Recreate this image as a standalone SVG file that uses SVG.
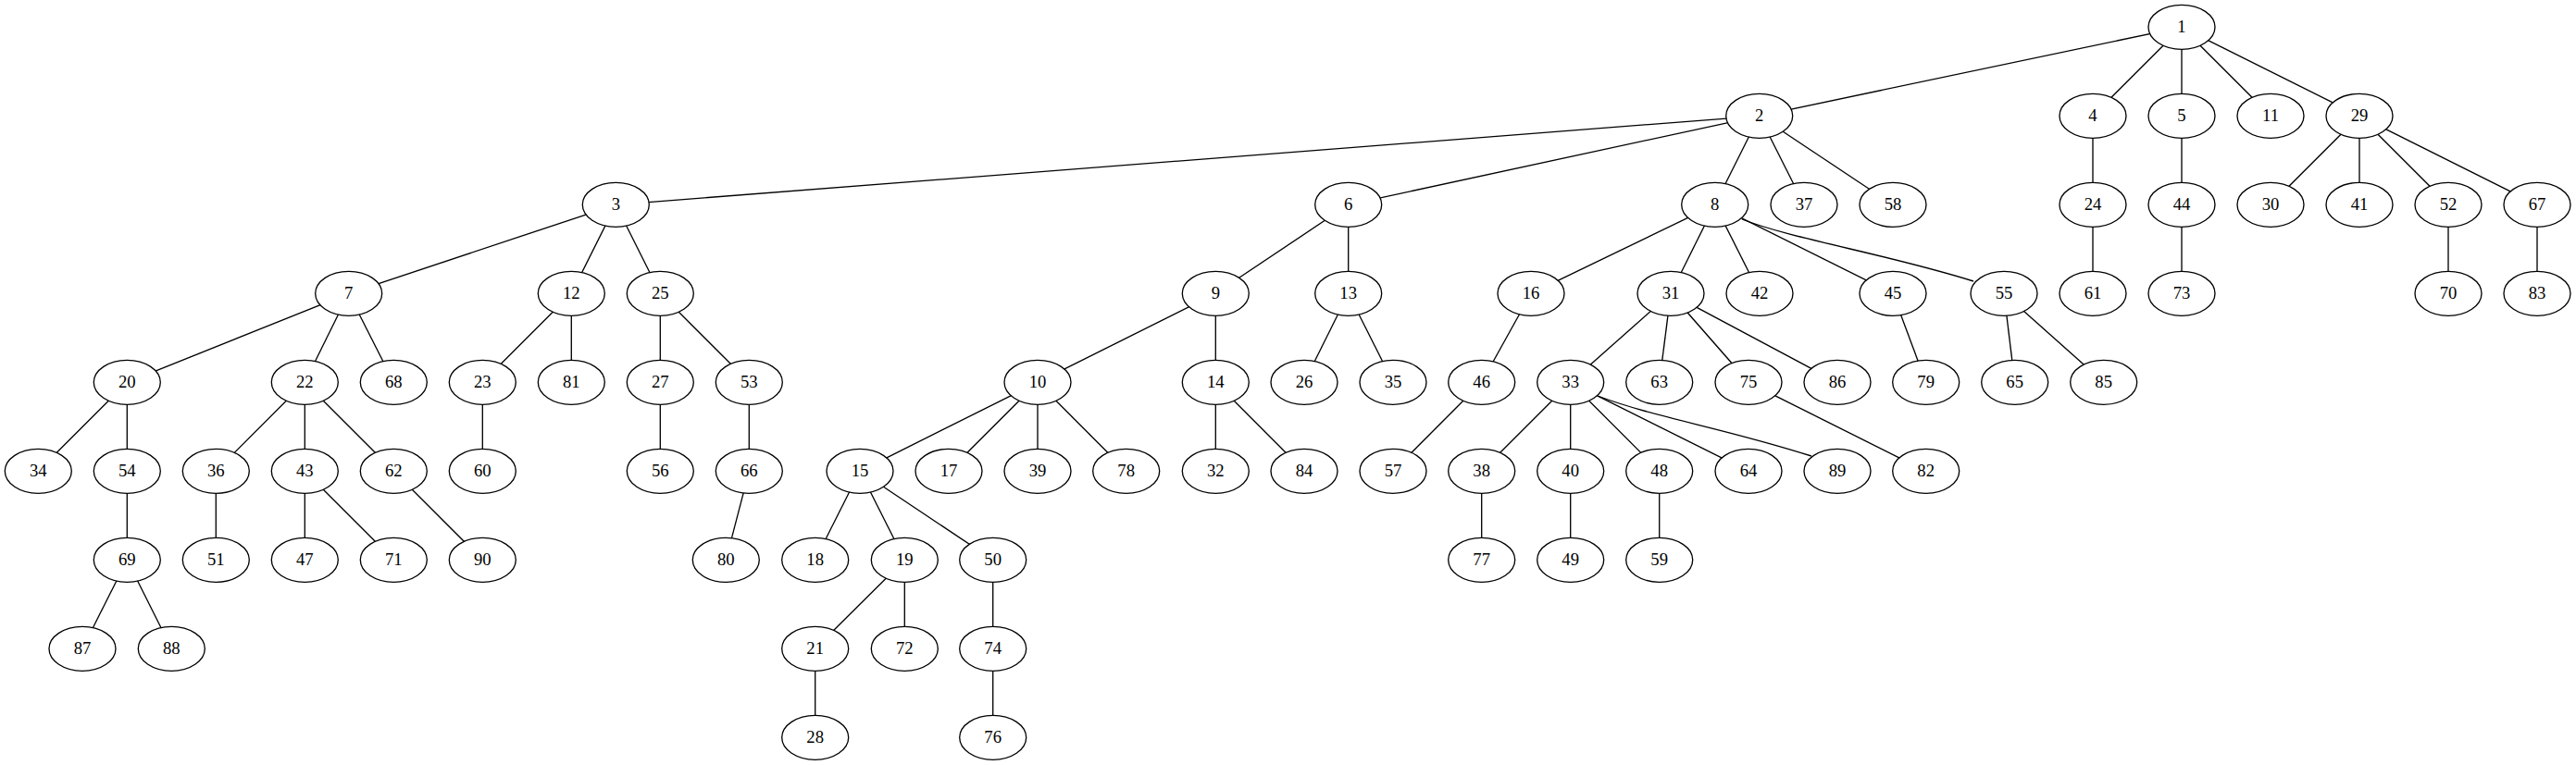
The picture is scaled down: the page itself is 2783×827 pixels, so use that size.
<svg xmlns="http://www.w3.org/2000/svg" width="2783" height="827" viewBox="0 0 2783 827">
<style>
.e line, .e path { stroke:#000; stroke-width:1.33; fill:none; }
.n ellipse { fill:#fff; stroke:#000; stroke-width:1.33; }
.n text { font-family:"Liberation Serif","Times New Roman",serif; font-size:18.67px; text-anchor:middle; fill:#000; }
</style>
<rect width="2783" height="827" fill="#fff"/>
<g id="edges" class="e">
<line x1="2357" y1="29.3" x2="1900.7" y2="125.3"/>
<line x1="2357" y1="29.3" x2="2261" y2="125.3"/>
<line x1="2357" y1="29.3" x2="2357" y2="125.3"/>
<line x1="2357" y1="29.3" x2="2453" y2="125.3"/>
<line x1="2357" y1="29.3" x2="2549" y2="125.3"/>
<line x1="1900.7" y1="125.3" x2="665.3" y2="221.3"/>
<line x1="1900.7" y1="125.3" x2="1456.7" y2="221.3"/>
<line x1="1900.7" y1="125.3" x2="1852.7" y2="221.3"/>
<line x1="1900.7" y1="125.3" x2="1949" y2="221.3"/>
<line x1="1900.7" y1="125.3" x2="2045" y2="221.3"/>
<line x1="2261" y1="125.3" x2="2261" y2="221.3"/>
<line x1="2357" y1="125.3" x2="2357" y2="221.3"/>
<line x1="2549" y1="125.3" x2="2453" y2="221.3"/>
<line x1="2549" y1="125.3" x2="2549" y2="221.3"/>
<line x1="2549" y1="125.3" x2="2645" y2="221.3"/>
<line x1="2549" y1="125.3" x2="2741" y2="221.3"/>
<line x1="665.3" y1="221.3" x2="376.7" y2="317.3"/>
<line x1="665.3" y1="221.3" x2="617.3" y2="317.3"/>
<line x1="665.3" y1="221.3" x2="713.3" y2="317.3"/>
<line x1="1456.7" y1="221.3" x2="1313.3" y2="317.3"/>
<line x1="1456.7" y1="221.3" x2="1456.7" y2="317.3"/>
<line x1="1852.7" y1="221.3" x2="1654" y2="317.3"/>
<line x1="1852.7" y1="221.3" x2="1805" y2="317.3"/>
<line x1="1852.7" y1="221.3" x2="1901" y2="317.3"/>
<line x1="1852.7" y1="221.3" x2="2045" y2="317.3"/>
<path d="M1882,237 C1935,258 2040,275 2132,304"/>
<line x1="2261" y1="221.3" x2="2261" y2="317.3"/>
<line x1="2357" y1="221.3" x2="2357" y2="317.3"/>
<line x1="2645" y1="221.3" x2="2645" y2="317.3"/>
<line x1="2741" y1="221.3" x2="2741" y2="317.3"/>
<line x1="376.7" y1="317.3" x2="137.3" y2="413.3"/>
<line x1="376.7" y1="317.3" x2="329.3" y2="413.3"/>
<line x1="376.7" y1="317.3" x2="425.3" y2="413.3"/>
<line x1="617.3" y1="317.3" x2="521.3" y2="413.3"/>
<line x1="617.3" y1="317.3" x2="617.3" y2="413.3"/>
<line x1="713.3" y1="317.3" x2="713.3" y2="413.3"/>
<line x1="713.3" y1="317.3" x2="809.3" y2="413.3"/>
<line x1="1313.3" y1="317.3" x2="1121" y2="413.3"/>
<line x1="1313.3" y1="317.3" x2="1313.3" y2="413.3"/>
<line x1="1456.7" y1="317.3" x2="1409" y2="413.3"/>
<line x1="1456.7" y1="317.3" x2="1505" y2="413.3"/>
<line x1="1654" y1="317.3" x2="1600.7" y2="413.3"/>
<line x1="1805" y1="317.3" x2="1696.7" y2="413.3"/>
<line x1="1805" y1="317.3" x2="1792.7" y2="413.3"/>
<line x1="1805" y1="317.3" x2="1889" y2="413.3"/>
<line x1="1805" y1="317.3" x2="1985" y2="413.3"/>
<line x1="2045" y1="317.3" x2="2080.7" y2="413.3"/>
<line x1="2165" y1="317.3" x2="2176.7" y2="413.3"/>
<line x1="2165" y1="317.3" x2="2272.7" y2="413.3"/>
<line x1="137.3" y1="413.3" x2="41.3" y2="509.3"/>
<line x1="137.3" y1="413.3" x2="137.3" y2="509.3"/>
<line x1="329.3" y1="413.3" x2="233.3" y2="509.3"/>
<line x1="329.3" y1="413.3" x2="329.3" y2="509.3"/>
<line x1="329.3" y1="413.3" x2="425.3" y2="509.3"/>
<line x1="521.3" y1="413.3" x2="521.3" y2="509.3"/>
<line x1="713.3" y1="413.3" x2="713.3" y2="509.3"/>
<line x1="809.3" y1="413.3" x2="809.3" y2="509.3"/>
<line x1="1121" y1="413.3" x2="929" y2="509.3"/>
<line x1="1121" y1="413.3" x2="1025" y2="509.3"/>
<line x1="1121" y1="413.3" x2="1121" y2="509.3"/>
<line x1="1121" y1="413.3" x2="1216.7" y2="509.3"/>
<line x1="1313.3" y1="413.3" x2="1313.3" y2="509.3"/>
<line x1="1313.3" y1="413.3" x2="1409" y2="509.3"/>
<line x1="1600.7" y1="413.3" x2="1505" y2="509.3"/>
<line x1="1696.7" y1="413.3" x2="1600.7" y2="509.3"/>
<line x1="1696.7" y1="413.3" x2="1696.7" y2="509.3"/>
<line x1="1696.7" y1="413.3" x2="1792.7" y2="509.3"/>
<line x1="1696.7" y1="413.3" x2="1889" y2="509.3"/>
<path d="M1726,428 C1790,452 1860,462 1957,493"/>
<line x1="1889" y1="413.3" x2="2080.7" y2="509.3"/>
<line x1="137.3" y1="509.3" x2="137.3" y2="605.3"/>
<line x1="233.3" y1="509.3" x2="233.3" y2="605.3"/>
<line x1="329.3" y1="509.3" x2="329.3" y2="605.3"/>
<line x1="329.3" y1="509.3" x2="425.3" y2="605.3"/>
<line x1="425.3" y1="509.3" x2="521.3" y2="605.3"/>
<line x1="809.3" y1="509.3" x2="784.3" y2="605.3"/>
<line x1="929" y1="509.3" x2="880.7" y2="605.3"/>
<line x1="929" y1="509.3" x2="977.3" y2="605.3"/>
<line x1="929" y1="509.3" x2="1072.7" y2="605.3"/>
<line x1="1600.7" y1="509.3" x2="1600.7" y2="605.3"/>
<line x1="1696.7" y1="509.3" x2="1696.7" y2="605.3"/>
<line x1="1792.7" y1="509.3" x2="1792.7" y2="605.3"/>
<line x1="137.3" y1="605.3" x2="89" y2="701.3"/>
<line x1="137.3" y1="605.3" x2="185.3" y2="701.3"/>
<line x1="977.3" y1="605.3" x2="880.7" y2="701.3"/>
<line x1="977.3" y1="605.3" x2="977.3" y2="701.3"/>
<line x1="1072.7" y1="605.3" x2="1072.7" y2="701.3"/>
<line x1="880.7" y1="701.3" x2="880.7" y2="797.3"/>
<line x1="1072.7" y1="701.3" x2="1072.7" y2="797.3"/>
</g>
<g class="n">
<g id="n1"><ellipse cx="2357" cy="29.3" rx="36" ry="24"/><text x="2357" y="35.3">1</text></g>
<g id="n2"><ellipse cx="1900.7" cy="125.3" rx="36" ry="24"/><text x="1900.7" y="131.3">2</text></g>
<g id="n4"><ellipse cx="2261" cy="125.3" rx="36" ry="24"/><text x="2261" y="131.3">4</text></g>
<g id="n5"><ellipse cx="2357" cy="125.3" rx="36" ry="24"/><text x="2357" y="131.3">5</text></g>
<g id="n11"><ellipse cx="2453" cy="125.3" rx="36" ry="24"/><text x="2453" y="131.3">11</text></g>
<g id="n29"><ellipse cx="2549" cy="125.3" rx="36" ry="24"/><text x="2549" y="131.3">29</text></g>
<g id="n3"><ellipse cx="665.3" cy="221.3" rx="36" ry="24"/><text x="665.3" y="227.3">3</text></g>
<g id="n6"><ellipse cx="1456.7" cy="221.3" rx="36" ry="24"/><text x="1456.7" y="227.3">6</text></g>
<g id="n8"><ellipse cx="1852.7" cy="221.3" rx="36" ry="24"/><text x="1852.7" y="227.3">8</text></g>
<g id="n37"><ellipse cx="1949" cy="221.3" rx="36" ry="24"/><text x="1949" y="227.3">37</text></g>
<g id="n58"><ellipse cx="2045" cy="221.3" rx="36" ry="24"/><text x="2045" y="227.3">58</text></g>
<g id="n24"><ellipse cx="2261" cy="221.3" rx="36" ry="24"/><text x="2261" y="227.3">24</text></g>
<g id="n44"><ellipse cx="2357" cy="221.3" rx="36" ry="24"/><text x="2357" y="227.3">44</text></g>
<g id="n30"><ellipse cx="2453" cy="221.3" rx="36" ry="24"/><text x="2453" y="227.3">30</text></g>
<g id="n41"><ellipse cx="2549" cy="221.3" rx="36" ry="24"/><text x="2549" y="227.3">41</text></g>
<g id="n52"><ellipse cx="2645" cy="221.3" rx="36" ry="24"/><text x="2645" y="227.3">52</text></g>
<g id="n67"><ellipse cx="2741" cy="221.3" rx="36" ry="24"/><text x="2741" y="227.3">67</text></g>
<g id="n7"><ellipse cx="376.7" cy="317.3" rx="36" ry="24"/><text x="376.7" y="323.3">7</text></g>
<g id="n12"><ellipse cx="617.3" cy="317.3" rx="36" ry="24"/><text x="617.3" y="323.3">12</text></g>
<g id="n25"><ellipse cx="713.3" cy="317.3" rx="36" ry="24"/><text x="713.3" y="323.3">25</text></g>
<g id="n9"><ellipse cx="1313.3" cy="317.3" rx="36" ry="24"/><text x="1313.3" y="323.3">9</text></g>
<g id="n13"><ellipse cx="1456.7" cy="317.3" rx="36" ry="24"/><text x="1456.7" y="323.3">13</text></g>
<g id="n16"><ellipse cx="1654" cy="317.3" rx="36" ry="24"/><text x="1654" y="323.3">16</text></g>
<g id="n31"><ellipse cx="1805" cy="317.3" rx="36" ry="24"/><text x="1805" y="323.3">31</text></g>
<g id="n42"><ellipse cx="1901" cy="317.3" rx="36" ry="24"/><text x="1901" y="323.3">42</text></g>
<g id="n45"><ellipse cx="2045" cy="317.3" rx="36" ry="24"/><text x="2045" y="323.3">45</text></g>
<g id="n55"><ellipse cx="2165" cy="317.3" rx="36" ry="24"/><text x="2165" y="323.3">55</text></g>
<g id="n61"><ellipse cx="2261" cy="317.3" rx="36" ry="24"/><text x="2261" y="323.3">61</text></g>
<g id="n73"><ellipse cx="2357" cy="317.3" rx="36" ry="24"/><text x="2357" y="323.3">73</text></g>
<g id="n70"><ellipse cx="2645" cy="317.3" rx="36" ry="24"/><text x="2645" y="323.3">70</text></g>
<g id="n83"><ellipse cx="2741" cy="317.3" rx="36" ry="24"/><text x="2741" y="323.3">83</text></g>
<g id="n20"><ellipse cx="137.3" cy="413.3" rx="36" ry="24"/><text x="137.3" y="419.3">20</text></g>
<g id="n22"><ellipse cx="329.3" cy="413.3" rx="36" ry="24"/><text x="329.3" y="419.3">22</text></g>
<g id="n68"><ellipse cx="425.3" cy="413.3" rx="36" ry="24"/><text x="425.3" y="419.3">68</text></g>
<g id="n23"><ellipse cx="521.3" cy="413.3" rx="36" ry="24"/><text x="521.3" y="419.3">23</text></g>
<g id="n81"><ellipse cx="617.3" cy="413.3" rx="36" ry="24"/><text x="617.3" y="419.3">81</text></g>
<g id="n27"><ellipse cx="713.3" cy="413.3" rx="36" ry="24"/><text x="713.3" y="419.3">27</text></g>
<g id="n53"><ellipse cx="809.3" cy="413.3" rx="36" ry="24"/><text x="809.3" y="419.3">53</text></g>
<g id="n10"><ellipse cx="1121" cy="413.3" rx="36" ry="24"/><text x="1121" y="419.3">10</text></g>
<g id="n14"><ellipse cx="1313.3" cy="413.3" rx="36" ry="24"/><text x="1313.3" y="419.3">14</text></g>
<g id="n26"><ellipse cx="1409" cy="413.3" rx="36" ry="24"/><text x="1409" y="419.3">26</text></g>
<g id="n35"><ellipse cx="1505" cy="413.3" rx="36" ry="24"/><text x="1505" y="419.3">35</text></g>
<g id="n46"><ellipse cx="1600.7" cy="413.3" rx="36" ry="24"/><text x="1600.7" y="419.3">46</text></g>
<g id="n33"><ellipse cx="1696.7" cy="413.3" rx="36" ry="24"/><text x="1696.7" y="419.3">33</text></g>
<g id="n63"><ellipse cx="1792.7" cy="413.3" rx="36" ry="24"/><text x="1792.7" y="419.3">63</text></g>
<g id="n75"><ellipse cx="1889" cy="413.3" rx="36" ry="24"/><text x="1889" y="419.3">75</text></g>
<g id="n86"><ellipse cx="1985" cy="413.3" rx="36" ry="24"/><text x="1985" y="419.3">86</text></g>
<g id="n79"><ellipse cx="2080.7" cy="413.3" rx="36" ry="24"/><text x="2080.7" y="419.3">79</text></g>
<g id="n65"><ellipse cx="2176.7" cy="413.3" rx="36" ry="24"/><text x="2176.7" y="419.3">65</text></g>
<g id="n85"><ellipse cx="2272.7" cy="413.3" rx="36" ry="24"/><text x="2272.7" y="419.3">85</text></g>
<g id="n34"><ellipse cx="41.3" cy="509.3" rx="36" ry="24"/><text x="41.3" y="515.3">34</text></g>
<g id="n54"><ellipse cx="137.3" cy="509.3" rx="36" ry="24"/><text x="137.3" y="515.3">54</text></g>
<g id="n36"><ellipse cx="233.3" cy="509.3" rx="36" ry="24"/><text x="233.3" y="515.3">36</text></g>
<g id="n43"><ellipse cx="329.3" cy="509.3" rx="36" ry="24"/><text x="329.3" y="515.3">43</text></g>
<g id="n62"><ellipse cx="425.3" cy="509.3" rx="36" ry="24"/><text x="425.3" y="515.3">62</text></g>
<g id="n60"><ellipse cx="521.3" cy="509.3" rx="36" ry="24"/><text x="521.3" y="515.3">60</text></g>
<g id="n56"><ellipse cx="713.3" cy="509.3" rx="36" ry="24"/><text x="713.3" y="515.3">56</text></g>
<g id="n66"><ellipse cx="809.3" cy="509.3" rx="36" ry="24"/><text x="809.3" y="515.3">66</text></g>
<g id="n15"><ellipse cx="929" cy="509.3" rx="36" ry="24"/><text x="929" y="515.3">15</text></g>
<g id="n17"><ellipse cx="1025" cy="509.3" rx="36" ry="24"/><text x="1025" y="515.3">17</text></g>
<g id="n39"><ellipse cx="1121" cy="509.3" rx="36" ry="24"/><text x="1121" y="515.3">39</text></g>
<g id="n78"><ellipse cx="1216.7" cy="509.3" rx="36" ry="24"/><text x="1216.7" y="515.3">78</text></g>
<g id="n32"><ellipse cx="1313.3" cy="509.3" rx="36" ry="24"/><text x="1313.3" y="515.3">32</text></g>
<g id="n84"><ellipse cx="1409" cy="509.3" rx="36" ry="24"/><text x="1409" y="515.3">84</text></g>
<g id="n57"><ellipse cx="1505" cy="509.3" rx="36" ry="24"/><text x="1505" y="515.3">57</text></g>
<g id="n38"><ellipse cx="1600.7" cy="509.3" rx="36" ry="24"/><text x="1600.7" y="515.3">38</text></g>
<g id="n40"><ellipse cx="1696.7" cy="509.3" rx="36" ry="24"/><text x="1696.7" y="515.3">40</text></g>
<g id="n48"><ellipse cx="1792.7" cy="509.3" rx="36" ry="24"/><text x="1792.7" y="515.3">48</text></g>
<g id="n64"><ellipse cx="1889" cy="509.3" rx="36" ry="24"/><text x="1889" y="515.3">64</text></g>
<g id="n89"><ellipse cx="1985" cy="509.3" rx="36" ry="24"/><text x="1985" y="515.3">89</text></g>
<g id="n82"><ellipse cx="2080.7" cy="509.3" rx="36" ry="24"/><text x="2080.7" y="515.3">82</text></g>
<g id="n69"><ellipse cx="137.3" cy="605.3" rx="36" ry="24"/><text x="137.3" y="611.3">69</text></g>
<g id="n51"><ellipse cx="233.3" cy="605.3" rx="36" ry="24"/><text x="233.3" y="611.3">51</text></g>
<g id="n47"><ellipse cx="329.3" cy="605.3" rx="36" ry="24"/><text x="329.3" y="611.3">47</text></g>
<g id="n71"><ellipse cx="425.3" cy="605.3" rx="36" ry="24"/><text x="425.3" y="611.3">71</text></g>
<g id="n90"><ellipse cx="521.3" cy="605.3" rx="36" ry="24"/><text x="521.3" y="611.3">90</text></g>
<g id="n80"><ellipse cx="784.3" cy="605.3" rx="36" ry="24"/><text x="784.3" y="611.3">80</text></g>
<g id="n18"><ellipse cx="880.7" cy="605.3" rx="36" ry="24"/><text x="880.7" y="611.3">18</text></g>
<g id="n19"><ellipse cx="977.3" cy="605.3" rx="36" ry="24"/><text x="977.3" y="611.3">19</text></g>
<g id="n50"><ellipse cx="1072.7" cy="605.3" rx="36" ry="24"/><text x="1072.7" y="611.3">50</text></g>
<g id="n77"><ellipse cx="1600.7" cy="605.3" rx="36" ry="24"/><text x="1600.7" y="611.3">77</text></g>
<g id="n49"><ellipse cx="1696.7" cy="605.3" rx="36" ry="24"/><text x="1696.7" y="611.3">49</text></g>
<g id="n59"><ellipse cx="1792.7" cy="605.3" rx="36" ry="24"/><text x="1792.7" y="611.3">59</text></g>
<g id="n87"><ellipse cx="89" cy="701.3" rx="36" ry="24"/><text x="89" y="707.3">87</text></g>
<g id="n88"><ellipse cx="185.3" cy="701.3" rx="36" ry="24"/><text x="185.3" y="707.3">88</text></g>
<g id="n21"><ellipse cx="880.7" cy="701.3" rx="36" ry="24"/><text x="880.7" y="707.3">21</text></g>
<g id="n72"><ellipse cx="977.3" cy="701.3" rx="36" ry="24"/><text x="977.3" y="707.3">72</text></g>
<g id="n74"><ellipse cx="1072.7" cy="701.3" rx="36" ry="24"/><text x="1072.7" y="707.3">74</text></g>
<g id="n28"><ellipse cx="880.7" cy="797.3" rx="36" ry="24"/><text x="880.7" y="803.3">28</text></g>
<g id="n76"><ellipse cx="1072.7" cy="797.3" rx="36" ry="24"/><text x="1072.7" y="803.3">76</text></g>
</g>
</svg>
